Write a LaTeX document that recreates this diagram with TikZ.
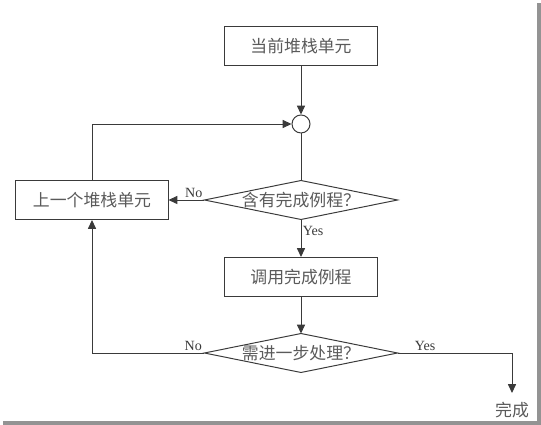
\documentclass[tikz,border=0pt]{standalone}
\usepackage{fontspec}
\usepackage{tikz}
\usetikzlibrary{arrows.meta,positioning}
\newfontfamily\cjk{Noto Sans CJK SC}
\setmainfont{Liberation Serif}
\definecolor{ChartInk}{HTML}{3A3A3A}
\definecolor{ChartText}{HTML}{5A5A5A}
\tikzset{
  chart/.style={font=\cjk\large,text=ChartText,line width=0.7pt,draw=ChartInk},
  unitbox/.style={draw=ChartInk,line width=0.7pt,minimum width=3.8cm,minimum height=0.975cm,inner sep=0pt},
  testbox/.style={minimum width=4.8cm,minimum height=0.95cm,inner sep=0pt},
  joint/.style={circle,draw=ChartInk,line width=0.7pt,fill=white,minimum size=0.45cm,inner sep=0pt},
  link/.style={-{Triangle[length=2.2mm,width=2mm]},draw=ChartInk,line width=0.7pt},
  tag/.style={font=\rmfamily\normalsize,text=ChartInk,inner sep=1pt},
}

\begin{document}
\begin{tikzpicture}[chart,x=0.025cm,y=-0.025cm]
  \useasboundingbox (0,0) rectangle (541,425);
  % screenshot shadow
  \fill[gray!85] (537,3) rectangle (541,421);
  \fill[gray!85] (3,421) rectangle (541,425);

  \node[unitbox] (cur) at (301,46) {当前堆栈单元};
  \node[joint] (merge) at (301,124) {};
  \node[testbox] (hasdone) at (301,200) {含有完成例程？};
  \draw (hasdone.west) -- (hasdone.north) -- (hasdone.east) -- (hasdone.south) -- cycle;
  \node[unitbox] (prev) at (92,200) {上一个堆栈单元};
  \node[unitbox] (call) at (301,277) {调用完成例程};
  \node[testbox] (more) at (301,353) {需进一步处理？};
  \draw (more.west) -- (more.north) -- (more.east) -- (more.south) -- cycle;
  \coordinate (finish) at (512,393);
  \node (done) at (512,410) {完成};

  \draw[link] (cur) -- (merge);
  \draw (merge) -- (hasdone.north);
  \draw[link] (hasdone.west) -- node[tag,above,pos=0.3] {No} (prev);
  \draw[link] (prev.north) |- (merge);
  \draw[link] (hasdone.south) -- node[tag,right,pos=0.3] {Yes} (call);
  \draw[link] (call) -- (more.north);
  \draw[link] (more.west) -| node[tag,above,pos=0.05] {No} (prev.south);
  \draw[link] (more.east) -| node[tag,above,pos=0.12] {Yes} (finish);
\end{tikzpicture}
\end{document}
